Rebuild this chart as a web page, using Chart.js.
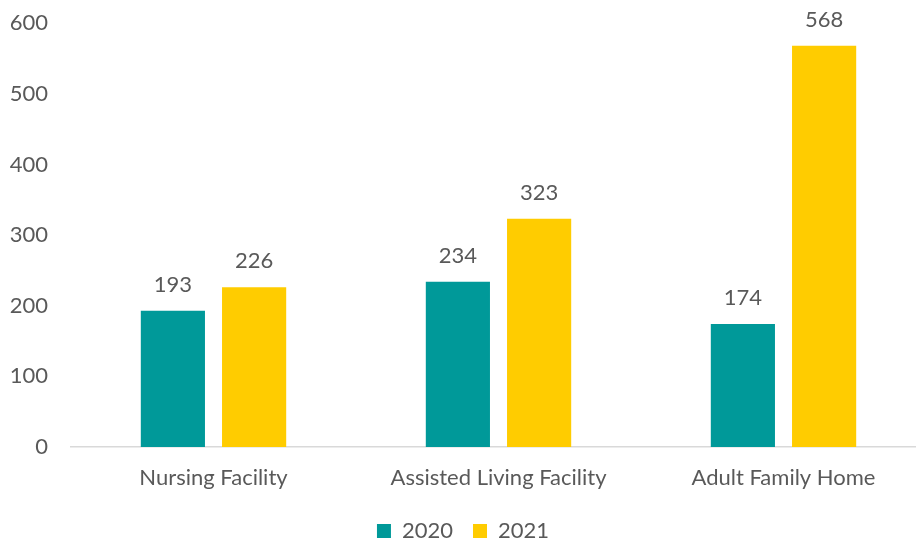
<!DOCTYPE html>
<html>
<head>
<meta charset="utf-8">
<script src="https://cdn.jsdelivr.net/npm/chart.js@4"></script>
<style>
  html, body { margin: 0; padding: 0; background: #ffffff; }
  /* canvas is a bit larger than the view; the plot runs off the right edge like the original */
  #wrap { width: 916px; height: 542px; overflow: hidden; position: relative; }
  #facilityChart { position: absolute; left: 0; top: -13px; }
</style>
</head>
<body>
<div id="wrap"><canvas id="facilityChart" width="926" height="565"></canvas></div>
<script>
const categories = ["Nursing Facility", "Assisted Living Facility", "Adult Family Home"];
const seriesNames = ["2020", "2021"];
const values2020 = [193, 234, 174];
const values2021 = [226, 323, 568];
const seriesColors = ["#009999", "#FFCC00"];

const textColor = '#595959';
const fontFamily = "Lato, 'Open Sans', sans-serif";

// draws the value above each bar (no datalabels plugin offline)
const barValueLabels = {
    id: 'barValueLabels',
    afterDatasetsDraw(chart) {
        const ctx = chart.ctx;
        ctx.save();
        ctx.font = `22px ${fontFamily}`;
        ctx.fillStyle = textColor;
        ctx.textAlign = 'center';
        ctx.textBaseline = 'bottom';
        chart.data.datasets.forEach((ds, i) => {
            const meta = chart.getDatasetMeta(i);
            meta.data.forEach((bar, j) => {
                ctx.fillText(ds.data[j], bar.x, bar.y - 15);
            });
        });
        ctx.restore();
    }
};

function initializeChart() {
    const ctx = document.getElementById('facilityChart').getContext('2d');
    new Chart(ctx, {
        type: 'bar',
        data: {
            labels: categories,
            datasets: [
                { label: seriesNames[0], data: values2020, backgroundColor: seriesColors[0] },
                { label: seriesNames[1], data: values2021, backgroundColor: seriesColors[1] }
            ]
        },
        options: {
            responsive: false,
            animation: false,
            layout: { padding: 0 },
            datasets: {
                bar: { categoryPercentage: 0.57, barPercentage: 0.79 }
            },
            plugins: {
                legend: {
                    position: 'bottom',
                    labels: {
                        color: textColor,
                        font: { family: fontFamily, size: 22 },
                        boxWidth: 14,
                        boxHeight: 14,
                        padding: 20
                    }
                },
                tooltip: { enabled: false }
            },
            scales: {
                x: {
                    grid: { display: false, drawTicks: false, tickLength: 0 },
                    border: { display: true, color: '#d9d9d9', width: 1.5 },
                    ticks: {
                        color: textColor,
                        font: { family: fontFamily, size: 22 },
                        padding: 18
                    },
                    afterFit(scale) { scale.height = 53; }
                },
                y: {
                    min: 0,
                    max: 600,
                    grid: { display: false, drawTicks: false, tickLength: 0 },
                    border: { display: false },
                    ticks: {
                        stepSize: 100,
                        color: textColor,
                        font: { family: fontFamily, size: 22 },
                        padding: 23
                    },
                    afterFit(scale) { scale.width = 71; }
                }
            }
        },
        plugins: [barValueLabels]
    });
}

document.addEventListener('DOMContentLoaded', initializeChart);
</script>
</body>
</html>
